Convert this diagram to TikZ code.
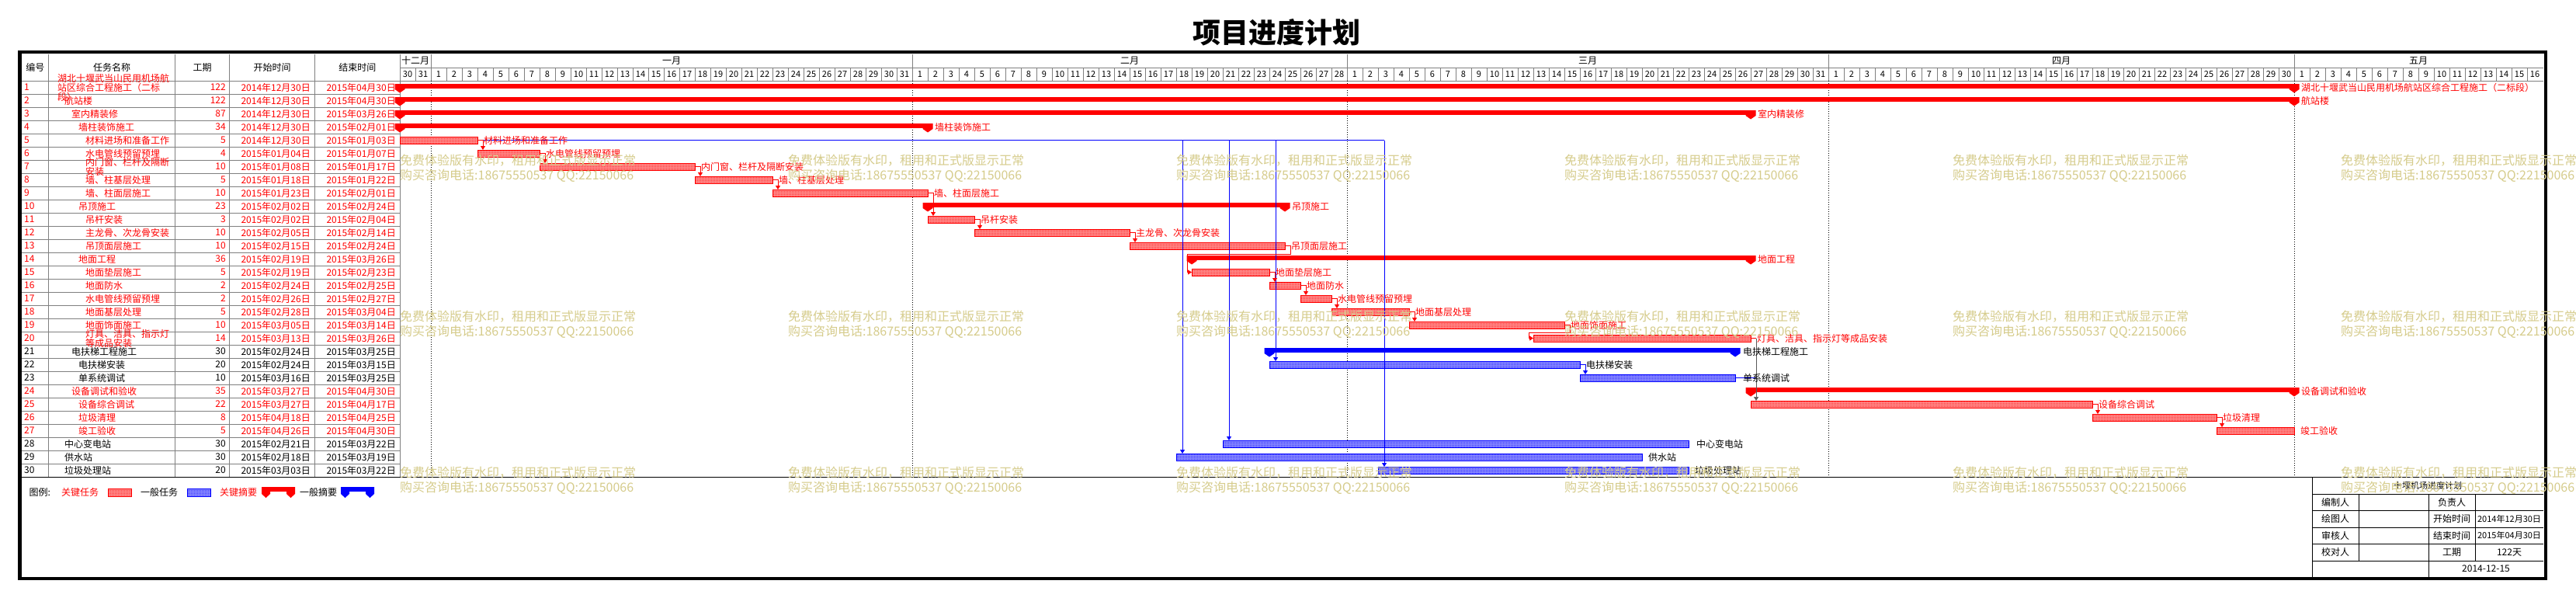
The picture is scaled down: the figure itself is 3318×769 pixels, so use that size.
\documentclass[tikz,border=0pt]{standalone}
\usepackage{fontspec}
\setmainfont{Noto Sans CJK SC}
\usetikzlibrary{patterns.meta,arrows.meta}
\pgfdeclarepattern{
  name=chk,
  type=uncolored,
  bottom left={\pgfpoint{0pt}{0pt}},
  top right={\pgfpoint{2pt}{2pt}},
  tile size={\pgfpoint{2pt}{2pt}},
  code={
    \pgfpathrectangle{\pgfpoint{0pt}{0pt}}{\pgfpoint{1pt}{1pt}}
    \pgfpathrectangle{\pgfpoint{1pt}{1pt}}{\pgfpoint{1pt}{1pt}}
    \pgfusepath{fill}
  }
}
\definecolor{wmk}{RGB}{214,204,140}
\definecolor{gridg}{RGB}{128,128,128}
\newcommand\fsz[1]{\fontsize{#1}{#1}\selectfont}
% task bar: name, row, x1, x2, style
\newcommand\gtaskbar[5]{%
  \node[#5, minimum width={(#4-#3)*1pt}] (#1) at (#3,{87+17*#2+4}) {};
}
% summary bar: name, row, x1, x2, colour
\newcommand\gsumbar[5]{%
  \fill[#5] (#3,{87+17*#2+4}) rectangle (#4,{87+17*#2+9.5});
  \foreach \xx in {#3,#4}{
    \fill[#5] (\xx-6.5,{87+17*#2+4}) -- (\xx+6.5,{87+17*#2+4}) -- (\xx+6.5,{87+17*#2+11})
      -- (\xx,{87+17*#2+15.5}) -- (\xx-6.5,{87+17*#2+11}) -- cycle;
  }
  \coordinate (#1) at (#4+9,{95.5+17*#2});
}
\begin{document}
\begin{tikzpicture}[x=1pt,y=-1pt,
  tt/.style={font=\fsz{12}, inner sep=0},
  dd/.style={font=\fsz{11}, inner sep=0},
  cbar/.style={draw=red, line width=1pt, pattern=chk, pattern color=red, preaction={fill=red!38},
    minimum height=9pt, inner sep=0, outer sep=0, anchor=north west},
  gbar/.style={draw=blue, line width=1pt, pattern=chk, pattern color=blue, preaction={fill=blue!38},
    minimum height=9pt, inner sep=0, outer sep=0, anchor=north west},
  rlink/.style={red, line width=0.8pt, -{Triangle[length=5pt,width=6pt]}},
  blink/.style={blue, line width=0.8pt, -{Triangle[length=5pt,width=6pt]}},
  klink/.style={black!65, line width=0.7pt, -{Triangle[length=5pt,width=6pt]}},
  lr/.style={font=\fsz{12}, text=red, inner sep=0, anchor=west},
  lk/.style={font=\fsz{12}, text=black, inner sep=0, anchor=west},
  wm/.style={font=\fsz{16}, text=wmk, inner sep=0, anchor=west},
  grd/.style={gridg, line width=1pt},
  mdot/.style={black, line width=0.8pt, dash pattern=on 1pt off 2pt}
]
\useasboundingbox (0,0) rectangle (3318,769);
\fill[white] (0,0) rectangle (3318,769);

% title
\node[font=\fsz{36}\bfseries] (title) at (1644,42) {项目进度计划};

% ---------- header grid ----------
\draw[grd] (515,87) -- (3276,87);
\draw[grd] (28,104) -- (3276,104);
\foreach \k in {1,...,137} \draw[grd] ({515+20*\k},87) -- ({515+20*\k},104);
\foreach \mx in {555,1175,1735,2355,2955} \draw[grd] (\mx,69.5) -- (\mx,87);
\foreach \cx in {62.5,225.5,295.5,405.5,515} \draw[grd] (\cx,69.5) -- (\cx,614.5);
\foreach \k in {1,...,29} \draw[grd] (28,{104+17*\k}) -- (515,{104+17*\k});

% table header
\node[tt] (h1) at (45.25,86.75) {编号};
\node[tt] (h2) at (144,86.75) {任务名称};
\node[tt] (h3) at (260.5,86.75) {工期};
\node[tt] (h4) at (350.5,86.75) {开始时间};
\node[tt] (h5) at (460.25,86.75) {结束时间};

% month labels
\node[tt] (m12) at (535,78.25) {十二月};
\node[tt] (m1) at (865,78.25) {一月};
\node[tt] (m2) at (1455,78.25) {二月};
\node[tt] (m3) at (2045,78.25) {三月};
\node[tt] (m4) at (2655,78.25) {四月};
\node[tt] (m5) at (3115,78.25) {五月};

% day labels
\node[dd] (dD30) at (525,95.5) {30};
\node[dd] (dD31) at (545,95.5) {31};
\foreach \d in {1,...,31} \node[dd] (dA\d) at ({545+20*\d},95.5) {\d};
\foreach \d in {1,...,28} \node[dd] (dB\d) at ({1165+20*\d},95.5) {\d};
\foreach \d in {1,...,31} \node[dd] (dC\d) at ({1725+20*\d},95.5) {\d};
\foreach \d in {1,...,30} \node[dd] (dE\d) at ({2345+20*\d},95.5) {\d};
\foreach \d in {1,...,16} \node[dd] (dF\d) at ({2945+20*\d},95.5) {\d};

% table rows
\foreach \r/\lv/\nm/\du/\sd/\ed/\cl in {
1/1/{湖北十堰武当山民用机场航\\站区综合工程施工（二标\\段）}/122/2014年12月30日/2015年04月30日/red,
2/2/航站楼/122/2014年12月30日/2015年04月30日/red,
3/3/室内精装修/87/2014年12月30日/2015年03月26日/red,
4/4/墙柱装饰施工/34/2014年12月30日/2015年02月01日/red,
5/5/材料进场和准备工作/5/2014年12月30日/2015年01月03日/red,
6/5/水电管线预留预埋/4/2015年01月04日/2015年01月07日/red,
7/5/{内门窗、栏杆及隔断\\安装}/10/2015年01月08日/2015年01月17日/red,
8/5/墙、柱基层处理/5/2015年01月18日/2015年01月22日/red,
9/5/墙、柱面层施工/10/2015年01月23日/2015年02月01日/red,
10/4/吊顶施工/23/2015年02月02日/2015年02月24日/red,
11/5/吊杆安装/3/2015年02月02日/2015年02月04日/red,
12/5/主龙骨、次龙骨安装/10/2015年02月05日/2015年02月14日/red,
13/5/吊顶面层施工/10/2015年02月15日/2015年02月24日/red,
14/4/地面工程/36/2015年02月19日/2015年03月26日/red,
15/5/地面垫层施工/5/2015年02月19日/2015年02月23日/red,
16/5/地面防水/2/2015年02月24日/2015年02月25日/red,
17/5/水电管线预留预埋/2/2015年02月26日/2015年02月27日/red,
18/5/地面基层处理/5/2015年02月28日/2015年03月04日/red,
19/5/地面饰面施工/10/2015年03月05日/2015年03月14日/red,
20/5/{灯具、洁具、指示灯\\等成品安装}/14/2015年03月13日/2015年03月26日/red,
21/3/电扶梯工程施工/30/2015年02月24日/2015年03月25日/black,
22/4/电扶梯安装/20/2015年02月24日/2015年03月15日/black,
23/4/单系统调试/10/2015年03月16日/2015年03月25日/black,
24/3/设备调试和验收/35/2015年03月27日/2015年04月30日/red,
25/4/设备综合调试/22/2015年03月27日/2015年04月17日/red,
26/4/垃圾清理/8/2015年04月18日/2015年04月25日/red,
27/4/竣工验收/5/2015年04月26日/2015年04月30日/red,
28/2/中心变电站/30/2015年02月21日/2015年03月22日/black,
29/2/供水站/30/2015年02月18日/2015年03月19日/black,
30/2/垃圾处理站/20/2015年03月03日/2015年03月22日/black}{
  \pgfmathsetmacro\cy{95.5+17*\r}
  \pgfmathsetmacro\ix{74+9*(\lv-1)}
  \node[tt,text=\cl,anchor=west] (no\r) at (31,\cy) {\r};
  \node[tt,text=\cl,anchor=west,align=left] (nm\r) at (\ix,\cy) {\nm};
  \node[tt,text=\cl,anchor=east] (du\r) at (291,\cy) {\du};
  \node[tt,text=\cl,anchor=east] (sd\r) at (400,\cy) {\sd};
  \node[tt,text=\cl,anchor=east] (ed\r) at (510,\cy) {\ed};
}

% month dotted lines
\foreach \mx in {555,1175,1735,2355,2955} \draw[mdot] (\mx,104) -- (\mx,614.5);

% bottom line of table
\draw[black, line width=1.5pt] (28,614.5) -- (3276,614.5);

% ---------- summary bars ----------
\gsumbar{s1}{1}{515}{2955}{red}
\gsumbar{s2}{2}{515}{2955}{red}
\gsumbar{s3}{3}{515}{2255}{red}
\gsumbar{s4}{4}{515}{1195}{red}
\gsumbar{s10}{10}{1195}{1655}{red}
\gsumbar{s14}{14}{1535}{2255}{red}
\gsumbar{s21}{21}{1635}{2235}{blue}
\gsumbar{s24}{24}{2255}{2955}{red}

% ---------- task bars ----------
\gtaskbar{t5}{5}{515}{615}{cbar}
\gtaskbar{t6}{6}{615}{695}{cbar}
\gtaskbar{t7}{7}{695}{895}{cbar}
\gtaskbar{t8}{8}{895}{995}{cbar}
\gtaskbar{t9}{9}{995}{1195}{cbar}
\gtaskbar{t11}{11}{1195}{1255}{cbar}
\gtaskbar{t12}{12}{1255}{1455}{cbar}
\gtaskbar{t13}{13}{1455}{1655}{cbar}
\gtaskbar{t15}{15}{1535}{1635}{cbar}
\gtaskbar{t16}{16}{1635}{1675}{cbar}
\gtaskbar{t17}{17}{1675}{1715}{cbar}
\gtaskbar{t18}{18}{1715}{1815}{cbar}
\gtaskbar{t19}{19}{1815}{2015}{cbar}
\gtaskbar{t20}{20}{1975}{2255}{cbar}
\gtaskbar{t25}{25}{2255}{2695}{cbar}
\gtaskbar{t26}{26}{2695}{2855}{cbar}
\gtaskbar{t27}{27}{2855}{2955}{cbar}
\gtaskbar{t22}{22}{1635}{2035}{gbar}
\gtaskbar{t23}{23}{2035}{2235}{gbar}
\gtaskbar{t28}{28}{1575}{2175}{gbar}
\gtaskbar{t29}{29}{1515}{2115}{gbar}
\gtaskbar{t30}{30}{1775}{2175}{gbar}

% ---------- links ----------
\draw[blue, line width=0.8pt] (t5.east) -- ([xshift=8pt]t30.north west |- t5.east);
\foreach \tn in {t22,t28,t29,t30}
  \draw[blink] ([xshift=8pt]\tn.north west |- t5.east) -- ([xshift=8pt]\tn.north west);
\foreach \a/\b in {t5/t6,t6/t7,t7/t8,t8/t9,t9/t11,t11/t12,t12/t13,t15/t16,t16/t17,t17/t18,t18/t19,t25/t26,t26/t27}
  \draw[rlink] (\a.east) -| ([xshift=7pt]\b.north west);
\draw[rlink] (t13.east) -- ++(7,0) -- ++(0,10.5) -| ([xshift=-6pt]t15.west) -- (t15.west);
\draw[rlink] (t19.east) -- ++(7,0) -- ++(0,10) -| ([xshift=-6pt]t20.west) -- (t20.west);
\draw[red, line width=0.8pt] (t20.east) -- ++(7,0) coordinate (k20);
\draw[klink] (k20) -- (k20 |- t25.north);
\draw[blue, line width=0.8pt] (t23.east) -- (t23.east -| k20);
\draw[blink] (t22.east) -| ([xshift=7pt]t23.north west);

% ---------- bar labels ----------
\node[lr] (ls1) at (s1) {湖北十堰武当山民用机场航站区综合工程施工（二标段）};
\node[lr] (ls2) at (s2) {航站楼};
\node[lr] (ls3) at (s3) {室内精装修};
\node[lr] (ls4) at (s4) {墙柱装饰施工};
\node[lr] (ls10) at (s10) {吊顶施工};
\node[lr] (ls14) at (s14) {地面工程};
\node[lk] (ls21) at ([xshift=1pt]s21) {电扶梯工程施工};
\node[lr] (ls24) at (s24) {设备调试和验收};
\node[lr] (l5) at ([xshift=8pt]t5.east) {材料进场和准备工作};
\node[lr] (l6) at ([xshift=8pt]t6.east) {水电管线预留预埋};
\node[lr] (l7) at ([xshift=8pt]t7.east) {内门窗、栏杆及隔断安装};
\node[lr] (l8) at ([xshift=8pt]t8.east) {墙、柱基层处理};
\node[lr] (l9) at ([xshift=8pt]t9.east) {墙、柱面层施工};
\node[lr] (l11) at ([xshift=8pt]t11.east) {吊杆安装};
\node[lr] (l12) at ([xshift=8pt]t12.east) {主龙骨、次龙骨安装};
\node[lr] (l13) at ([xshift=8pt]t13.east) {吊顶面层施工};
\node[lr] (l15) at ([xshift=8pt]t15.east) {地面垫层施工};
\node[lr] (l16) at ([xshift=8pt]t16.east) {地面防水};
\node[lr] (l17) at ([xshift=8pt]t17.east) {水电管线预留预埋};
\node[lr] (l18) at ([xshift=8pt]t18.east) {地面基层处理};
\node[lr] (l19) at ([xshift=8pt]t19.east) {地面饰面施工};
\node[lr] (l20) at ([xshift=8pt]t20.east) {灯具、洁具、指示灯等成品安装};
\node[lr] (l25) at ([xshift=8pt]t25.east) {设备综合调试};
\node[lr] (l26) at ([xshift=8pt]t26.east) {垃圾清理};
\node[lr] (l27) at ([xshift=8pt]t27.east) {竣工验收};
\node[lk] (l22) at ([xshift=8pt]t22.east) {电扶梯安装};
\node[lk] (l23) at ([xshift=10pt]t23.east) {单系统调试};
\node[lk] (l28) at ([xshift=10pt]t28.east) {中心变电站};
\node[lk] (l29) at ([xshift=8pt]t29.east) {供水站};
\node[lk] (l30) at ([xshift=8pt]t30.east) {垃圾处理站};

% ---------- legend ----------
\node[lk] (lg0) at (37.5,634) {图例:};
\node[lr] (lg1) at (79,634) {关键任务};
\node[cbar, minimum width=30pt, minimum height=10pt] (lgb1) at (139,629) {};
\node[lk] (lg2) at (181,634) {一般任务};
\node[gbar, minimum width=30pt, minimum height=10pt] (lgb2) at (241,629) {};
\node[lr] (lg3) at (283,634) {关键摘要};
\fill[red] (337,627) rectangle (380,632.5);
\foreach \cxx in {342.5,374.5}
  \fill[red] (\cxx-5.5,627) -- (\cxx+5.5,627) -- (\cxx+5.5,636) -- (\cxx,641) -- (\cxx-5.5,636) -- cycle;
\node[lk] (lg4) at (386,634) {一般摘要};
\fill[blue] (439,627) rectangle (482,632.5);
\foreach \cxx in {444.5,476.5}
  \fill[blue] (\cxx-5.5,627) -- (\cxx+5.5,627) -- (\cxx+5.5,636) -- (\cxx,641) -- (\cxx-5.5,636) -- cycle;

% ---------- info block ----------
\draw[black, line width=1pt] (2978,614.5) -- (2978,743);
\foreach \yy in {636,657.5,679,700.5,722} \draw[black, line width=1pt] (2978,\yy) -- (3276,\yy);
\draw[black, line width=1pt] (3038,636) -- (3038,722);
\draw[black, line width=1pt] (3128,636) -- (3128,743);
\draw[black, line width=1pt] (3188,636) -- (3188,722);
\node[font=\fsz{11}, inner sep=0] (ib0) at (3127,625.25) {十堰机场进度计划};
\node[tt] (ib1) at (3008,646.75) {编制人};
\node[tt] (ib2) at (3008,668.25) {绘图人};
\node[tt] (ib3) at (3008,689.75) {审核人};
\node[tt] (ib4) at (3008,711.25) {校对人};
\node[tt] (ib5) at (3158,646.75) {负责人};
\node[tt] (ib6) at (3158,668.25) {开始时间};
\node[tt] (ib7) at (3158,689.75) {结束时间};
\node[tt] (ib8) at (3158,711.25) {工期};
\node[font=\fsz{11}, inner sep=0] (ib9) at (3232,668.25) {2014年12月30日};
\node[font=\fsz{11}, inner sep=0] (ib10) at (3232,689.75) {2015年04月30日};
\node[tt] (ib11) at (3232,711.25) {122天};
\node[tt] (ib12) at (3202,732.5) {2014-12-15};

% outer border
\draw[black, line width=4.5pt] (25.5,67) rectangle (3279,745);

% ---------- watermarks ----------
\foreach \wx in {515,1015,1515,2015,2515,3015}
  \foreach \wy in {207,408,609}{
    \node[wm] (wa\wx-\wy) at (\wx,\wy) {免费体验版有水印，租用和正式版显示正常};
    \node[wm] (wb\wx-\wy) at (\wx,\wy+19) {购买咨询电话:18675550537 QQ:22150066};
  }
\end{tikzpicture}
\end{document}
